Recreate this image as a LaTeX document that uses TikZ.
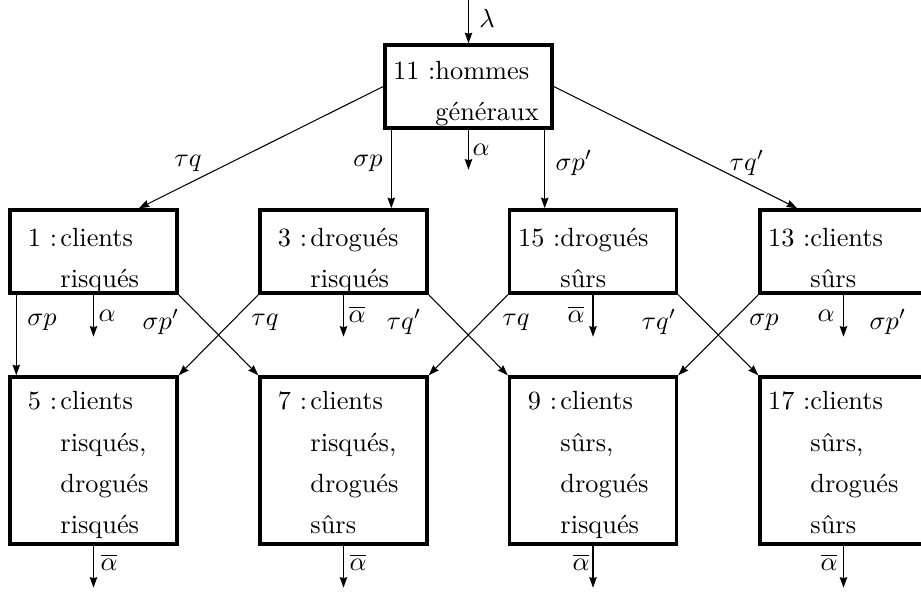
\documentclass[tikz,border=0pt]{standalone}
\usepackage{fontspec}
\usetikzlibrary{arrows.meta,calc}
\renewcommand{\arraystretch}{1.267}
\newcommand{\boxtxt}[2]{\begin{tabular}[t]{@{}l@{}l@{}}\makebox[16.1pt][r]{#1}&#2\end{tabular}}
\newcommand{\boxtxtb}[2]{{\renewcommand{\arraystretch}{1.3}\begin{tabular}[t]{@{}l@{}l@{}}\makebox[16.1pt][r]{#1}&#2\end{tabular}}}
\newcommand{\sgl}[1]{#1 :\hspace{1.3pt}}
\begin{document}
\begin{tikzpicture}[x=0.38pt,y=-0.38pt,
  box/.style={draw,line width=1.3pt,minimum width=63.46pt,inner sep=0pt},
  rowone/.style={box,minimum height=31.54pt},
  rowtwo/.style={box,minimum height=31.54pt},
  rowthree/.style={box,minimum height=63.46pt},
  txt/.style={anchor=base west,inner sep=0pt},
  conn/.style={line width=0.55pt,-{Stealth[length=4pt,width=2.8pt,inset=0.4pt]}},
  diag/.style={line width=0.4pt,-{Stealth[length=4pt,width=2.8pt,inset=0.4pt]}},
  lbl/.style={inner sep=0pt}]
\useasboundingbox (0,0) rectangle (921,592);
% boxes
\node[rowone] (T) at (468.5,86.5) {};
\node[rowtwo] (b1) at (93.5,251.5) {};
\node[rowtwo] (b3) at (343.5,251.5) {};
\node[rowtwo] (b15) at (593,251.5) {};
\node[rowtwo] (b13) at (843.5,251.5) {};
\node[rowthree] (b5) at (93.5,460.5) {};
\node[rowthree] (b7) at (343.5,460.5) {};
\node[rowthree] (b9) at (593,460.5) {};
\node[rowthree] (b17) at (843.5,460.5) {};
% texts
\node[txt] (t11) at (392.6,80) {\boxtxt{11 :}{hommes\\ &généraux}};
\node[txt] (t1) at (17.6,247) {\boxtxt{\sgl{1}}{clients\\ &risqués}};
\node[txt] (t3) at (267.6,247) {\boxtxt{\sgl{3}}{drogués\\ &risqués}};
\node[txt] (t15) at (517.6,247) {\boxtxt{15 :}{drogués\\ &sûrs}};
\node[txt] (t13) at (767.6,247) {\boxtxt{13 :}{clients\\ &sûrs}};
\node[txt] (t5) at (17.6,410) {\boxtxtb{\sgl{5}}{clients\\ &risqués,\\ &drogués\\ &risqués}};
\node[txt] (t7) at (267.6,410) {\boxtxtb{\sgl{7}}{clients\\ &risqués,\\ &drogués\\ &sûrs}};
\node[txt] (t9) at (517.6,410) {\boxtxtb{\sgl{9}}{clients\\ &sûrs,\\ &drogués\\ &risqués}};
\node[txt] (t17) at (767.6,410) {\boxtxtb{17 :}{clients\\ &sûrs,\\ &drogués\\ &sûrs}};
% top connectors
\coordinate (lam) at (468.5,0);
\draw[conn] (lam) -- (T.north);
\coordinate (aT) at ($(T.south)+(0,40)$);
\draw[conn] (T.south) -- (aT);
\draw[diag] (T.west) -- ($(b1.north west)!0.766!(b1.north east)$);
\draw[diag] (T.east) -- ($(b13.north west)!0.228!(b13.north east)$);
\coordinate (sp0) at ($(T.south west)+(8,0)$);
\draw[conn] (sp0) -- (sp0 |- b3.north);
\coordinate (spp0) at ($(T.south east)+(-9,0)$);
\draw[conn] (spp0) -- (spp0 |- b15.north);
% row two connectors
\coordinate (l1) at ($(b1.south west)+(8,0)$);
\draw[conn] (l1) -- (l1 |- b5.north);
\coordinate (a1) at ($(b1.south)+(0,42)$);
\coordinate (a3) at ($(b3.south)+(0,42)$);
\coordinate (a15) at ($(b15.south)+(0,42)$);
\coordinate (a13) at ($(b13.south)+(0,42)$);
\draw[conn] (b1.south) -- (a1);
\draw[conn] (b3.south) -- (a3);
\draw[conn] (b15.south) -- (a15);
\draw[conn] (b13.south) -- (a13);
\draw[diag] (b1.south east) -- (b7.north west);
\draw[diag] (b3.south west) -- (b5.north east);
\draw[diag] (b3.south east) -- (b9.north west);
\draw[diag] (b15.south west) -- (b7.north east);
\draw[diag] (b15.south east) -- (b17.north west);
\draw[diag] (b13.south west) -- (b9.north east);
% bottom connectors
\coordinate (a5) at ($(b5.south)+(0,42)$);
\coordinate (a7) at ($(b7.south)+(0,42)$);
\coordinate (a9) at ($(b9.south)+(0,42)$);
\coordinate (a17) at ($(b17.south)+(0,42)$);
\draw[conn] (b5.south) -- (a5);
\draw[conn] (b7.south) -- (a7);
\draw[conn] (b9.south) -- (a9);
\draw[conn] (b17.south) -- (a17);
% labels
\node[lbl] (Llam) at (487,18) {$\lambda$};
\node[lbl] (LaT) at (481,150) {$\alpha$};
\node[lbl] (LtqT) at (188,163) {$\tau q$};
\node[lbl] (LspT) at (368,163) {$\sigma p$};
\node[lbl] (LsppT) at (574,163) {$\sigma p'$};
\node[lbl] (LtqpT) at (747,163) {$\tau q'$};
\node[lbl] (L1a) at (42,322) {$\sigma p$};
\node[lbl] (L1b) at (107,316) {$\alpha$};
\node[lbl] (L1c) at (161,322) {$\sigma p'$};
\node[lbl] (L3a) at (265,322) {$\tau q$};
\node[lbl] (L3b) at (357,314) {$\overline{\alpha}$};
\node[lbl] (L3c) at (404,322) {$\tau q'$};
\node[lbl] (L15a) at (516,322) {$\tau q$};
\node[lbl] (L15b) at (576,314) {$\overline{\alpha}$};
\node[lbl] (L15c) at (659,322) {$\tau q'$};
\node[lbl] (L13a) at (764,322) {$\sigma p$};
\node[lbl] (L13b) at (826,316) {$\alpha$};
\node[lbl] (L13c) at (888,322) {$\sigma p'$};
\node[lbl] (L5) at (109,562) {$\overline{\alpha}$};
\node[lbl] (L7) at (358,562) {$\overline{\alpha}$};
\node[lbl] (L9) at (581,562) {$\overline{\alpha}$};
\node[lbl] (L17) at (829,562) {$\overline{\alpha}$};
\end{tikzpicture}
\end{document}
